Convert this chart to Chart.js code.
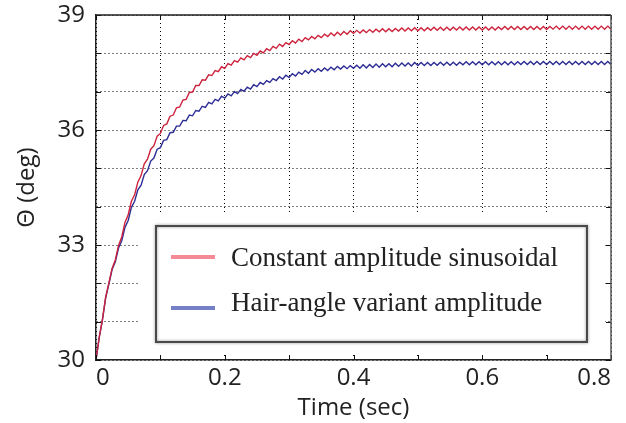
<!DOCTYPE html>
<html>
<head>
<meta charset="utf-8">
<script src="https://cdn.jsdelivr.net/npm/chart.js@4.4.0/dist/chart.umd.min.js"></script>
<style>
  html, body { margin: 0; padding: 0; background: #fff; }
  #wrap { width: 626px; height: 423px; }
</style>
</head>
<body>
<div id="wrap"><canvas id="thetaChart" width="626" height="423"></canvas></div>
<script>
const sampleStep = 0.005;
const seriesNames = ['Constant amplitude sinusoidal', 'Hair-angle variant amplitude'];

const constantAmp = [
  30.00, 30.59, 31.06, 31.64, 32.01, 32.39, 32.61, 32.99, 33.21, 33.59,
  33.79, 34.14, 34.31, 34.64, 34.81, 35.12, 35.24, 35.50, 35.59, 35.84,
  35.91, 36.12, 36.16, 36.36, 36.39, 36.58, 36.60, 36.78, 36.80, 36.98,
  36.99, 37.16, 37.16, 37.31, 37.30, 37.44, 37.42, 37.55, 37.52, 37.65,
  37.61, 37.73, 37.69, 37.81, 37.77, 37.88, 37.83, 37.94, 37.89, 38.00,
  37.95, 38.06, 38.01, 38.12, 38.07, 38.18, 38.13, 38.24, 38.18, 38.28,
  38.23, 38.33, 38.27, 38.37, 38.31, 38.41, 38.35, 38.44, 38.38, 38.47,
  38.41, 38.50, 38.44, 38.53, 38.46, 38.55, 38.48, 38.57, 38.50, 38.59,
  38.52, 38.60, 38.53, 38.61, 38.54, 38.62, 38.55, 38.63, 38.56, 38.64,
  38.56, 38.64, 38.57, 38.65, 38.58, 38.66, 38.58, 38.66, 38.59, 38.67,
  38.59, 38.67, 38.59, 38.67, 38.60, 38.68, 38.60, 38.68, 38.60, 38.68,
  38.60, 38.68, 38.61, 38.69, 38.61, 38.69, 38.61, 38.69, 38.61, 38.69,
  38.61, 38.69, 38.61, 38.69, 38.61, 38.69, 38.62, 38.70, 38.62, 38.70,
  38.62, 38.70, 38.62, 38.70, 38.62, 38.70, 38.62, 38.70, 38.62, 38.70,
  38.62, 38.70, 38.63, 38.71, 38.63, 38.71, 38.63, 38.71, 38.63, 38.71,
  38.63, 38.71, 38.63, 38.71, 38.63, 38.71, 38.63, 38.71, 38.63, 38.71,
  38.63
];

const hairAngle = [
  30.00, 30.59, 31.04, 31.62, 31.98, 32.36, 32.56, 32.92, 33.11, 33.46,
  33.64, 33.98, 34.14, 34.44, 34.56, 34.84, 34.94, 35.19, 35.27, 35.50,
  35.54, 35.73, 35.75, 35.93, 35.94, 36.10, 36.10, 36.25, 36.24, 36.39,
  36.37, 36.51, 36.49, 36.62, 36.59, 36.72, 36.68, 36.80, 36.76, 36.88,
  36.83, 36.94, 36.89, 37.00, 36.95, 37.06, 37.01, 37.12, 37.07, 37.18,
  37.13, 37.24, 37.19, 37.29, 37.24, 37.34, 37.29, 37.39, 37.33, 37.43,
  37.37, 37.47, 37.41, 37.51, 37.45, 37.55, 37.48, 37.58, 37.51, 37.60,
  37.53, 37.62, 37.55, 37.64, 37.57, 37.66, 37.59, 37.67, 37.60, 37.68,
  37.61, 37.69, 37.61, 37.70, 37.62, 37.71, 37.63, 37.72, 37.64, 37.73,
  37.65, 37.73, 37.65, 37.74, 37.66, 37.75, 37.67, 37.75, 37.67, 37.76,
  37.68, 37.76, 37.68, 37.76, 37.68, 37.76, 37.69, 37.77, 37.69, 37.77,
  37.69, 37.77, 37.69, 37.77, 37.70, 37.78, 37.70, 37.78, 37.70, 37.78,
  37.70, 37.78, 37.70, 37.78, 37.70, 37.78, 37.70, 37.78, 37.70, 37.78,
  37.70, 37.78, 37.71, 37.79, 37.71, 37.79, 37.71, 37.79, 37.71, 37.79,
  37.71, 37.79, 37.71, 37.79, 37.71, 37.79, 37.71, 37.79, 37.71, 37.79,
  37.71, 37.79, 37.71, 37.79, 37.71, 37.79, 37.71, 37.79, 37.71, 37.79,
  37.71
];

const xTickLabels = [0, 0.2, 0.4, 0.6, 0.8];
const yTickLabels = [30, 33, 36, 39];

const toPoints = vals => vals.map((v, i) => ({ x: +(i * sampleStep).toFixed(3), y: v }));

const tickFont = { family: '"Open Sans", sans-serif', size: 24 };

// white patch, matlab-style inner ticks, frame and the boxed legend
const frameAndLegend = {
  id: 'frameAndLegend',
  afterDatasetsDraw(chart) {
    const { ctx, chartArea: a, scales: { x, y } } = chart;
    ctx.save();

    ctx.fillStyle = '#fff';
    ctx.fillRect(140, 212, 465, 142);

    ctx.strokeStyle = '#111';
    ctx.lineWidth = 1;
    ctx.beginPath();
    x.ticks.forEach(t => {
      const px = Math.round(x.getPixelForValue(t.value)) + 0.5;
      ctx.moveTo(px, a.bottom); ctx.lineTo(px, a.bottom - 5);
      ctx.moveTo(px, a.top); ctx.lineTo(px, a.top + 5);
    });
    y.ticks.forEach(t => {
      const py = Math.round(y.getPixelForValue(t.value)) + 0.5;
      ctx.moveTo(a.left, py); ctx.lineTo(a.left + 5, py);
      ctx.moveTo(a.right, py); ctx.lineTo(a.right - 5, py);
    });
    ctx.stroke();

    ctx.lineWidth = 1.5;
    ctx.strokeStyle = '#222';
    ctx.beginPath();
    ctx.moveTo(a.left, a.top); ctx.lineTo(a.right, a.top);
    ctx.stroke();
    ctx.strokeStyle = '#555';
    ctx.beginPath();
    ctx.moveTo(a.right, a.top); ctx.lineTo(a.right, a.bottom);
    ctx.stroke();

    // legend box
    ctx.shadowColor = 'rgba(0,0,0,0.45)';
    ctx.shadowBlur = 3;
    ctx.strokeStyle = '#4a4a4a';
    ctx.lineWidth = 2;
    ctx.strokeRect(156, 226, 431, 116);
    ctx.shadowColor = 'transparent';
    ctx.shadowBlur = 0;

    const swatch = ['rgb(244,138,150)', 'rgb(118,128,198)'];
    const rowY = [257, 308];
    ctx.lineWidth = 4;
    chart.data.datasets.forEach((ds, i) => {
      ctx.strokeStyle = swatch[i];
      ctx.beginPath();
      ctx.moveTo(171, rowY[i]); ctx.lineTo(215, rowY[i]);
      ctx.stroke();
    });

    ctx.fillStyle = '#222';
    ctx.font = '27px "Liberation Serif", "Times New Roman", serif';
    ctx.textBaseline = 'alphabetic';
    ctx.textAlign = 'left';
    ctx.fillText(chart.data.datasets[0].label, 231, 266);
    ctx.fillText(chart.data.datasets[1].label, 231, 311);
    ctx.restore();
  }
};

const ctx = document.getElementById('thetaChart').getContext('2d');
const chart = new Chart(ctx, {
  type: 'line',
  data: {
    datasets: [
      {
        label: seriesNames[0],
        data: toPoints(constantAmp),
        borderColor: 'rgb(205,35,60)',
        borderWidth: 1.4,
        pointRadius: 0,
        tension: 0,
        fill: false
      },
      {
        label: seriesNames[1],
        data: toPoints(hairAngle),
        borderColor: 'rgb(45,45,150)',
        borderWidth: 1.4,
        pointRadius: 0,
        tension: 0,
        fill: false
      }
    ]
  },
  options: {
    responsive: false,
    animation: false,
    devicePixelRatio: 1,
    layout: { padding: { top: 15, right: 15, left: 0, bottom: 0 } },
    plugins: { legend: { display: false }, tooltip: { enabled: false } },
    scales: {
      x: {
        type: 'linear',
        min: 0,
        max: 0.8,
        ticks: {
          stepSize: 0.1,
          align: 'inner',
          padding: 4,
          color: '#222',
          font: tickFont,
          maxRotation: 0,
          autoSkip: false,
          callback: v => xTickLabels.some(t => Math.abs(t - v) < 1e-6) ? String(+v.toFixed(1)) : ''
        },
        grid: { color: '#000', lineWidth: 1, drawTicks: false },
        border: { display: true, color: '#222', width: 1.5, dash: [1, 3] },
        title: {
          display: true,
          text: 'Time (sec)',
          color: '#222',
          font: { family: '"Open Sans", sans-serif', size: 24 },
          padding: { top: 0, bottom: 0 }
        },
        afterFit: s => { s.height = 63; s.paddingLeft = 0; s.paddingRight = 0; }
      },
      y: {
        min: 30,
        max: 39,
        ticks: {
          stepSize: 1,
          padding: 11,
          color: '#222',
          font: tickFont,
          autoSkip: false,
          callback: v => yTickLabels.includes(v) ? String(v) : ''
        },
        grid: { color: '#000', lineWidth: 1, drawTicks: false },
        border: { display: true, color: '#222', width: 1.5, dash: [1, 3] },
        title: {
          display: true,
          text: 'Θ (deg)',
          color: '#222',
          font: { family: '"Open Sans", sans-serif', size: 24 },
          padding: { top: 13, bottom: 0 }
        },
        afterFit: s => { s.width = 96; s.paddingTop = 0; s.paddingBottom = 0; }
      }
    }
  },
  plugins: [frameAndLegend]
});
</script>
</body>
</html>
